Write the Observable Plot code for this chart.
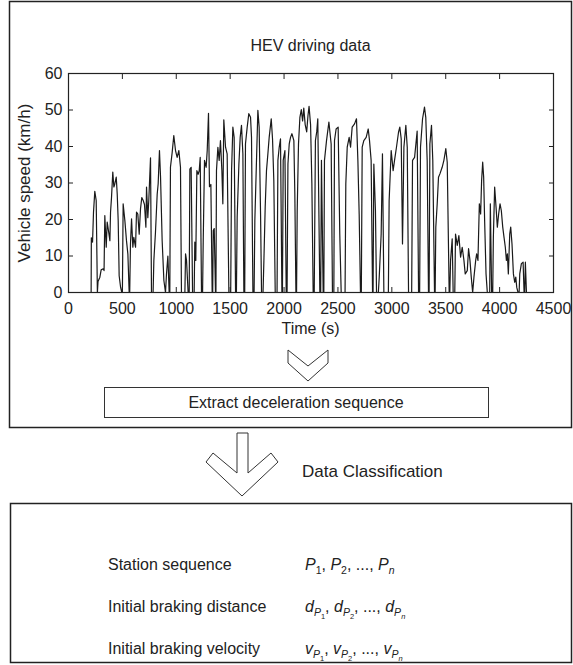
<!DOCTYPE html>
<html><head><meta charset="utf-8">
<script src="https://cdn.jsdelivr.net/npm/d3@7"></script>
<script src="https://cdn.jsdelivr.net/npm/@observablehq/plot@0.6"></script>
<style>
html,body{margin:0;padding:0;background:#fff;}
#chart{position:relative;width:573px;height:665px;overflow:hidden;}
</style></head><body><div id="chart"></div>
<script>
// ---- data ----
const timeS = [200,210,212,223,232,244,257,268,274,291,303,322,330,337,350,359,375,384,390,399,411,421,430,443,452,461,470,483,495,
500,507,523,538,551,563,568,575,585,597,606,622,631,643,656,668,680,693,705,718,724,736,745,761,770,785,792,807,823,832,844,854,869,885,900,
909,922,934,940,946,962,977,993,1008,1024,1039,1048,1080,1086,1095,1110,1120,1126,1138,1151,1166,1172,1181,1191,1203,1213,1222,1234,
1244,1250,1262,1277,1287,1299,1308,1321,1333,1338,1343,1352,1364,1368,1373,1386,1398,1410,1423,1432,1441,1457,1472,1488,
1505,1513,1525,1537,1550,1558,1565,1581,1593,1605,1618,1627,1635,1642,1658,1673,1689,1698,1711,1722,1729,1745,1757,1769,1782,1791,
1805,1813,1825,1837,1850,1862,1881,1893,1905,1918,1935,1943,1955,1967,1980,1985,1992,2008,2020,2028,2036,2048,2060,2073,2091,2100,2110,
2116,2122,2134,2147,2160,2172,2183,2196,2210,2222,2232,2246,2258,2270,2280,2291,2303,2313,2332,2340,2347,2363,2369,2375,2394,2416,2437,2449,
2462,2468,2483,2502,2517,2530,2566,2573,2586,2604,2617,2632,2654,2672,2685,2697,2709,2717,2725,2740,2762,2781,2793,2808,2821,
2826,2833,2848,2858,2875,2883,2901,2913,2926,2968,2975,2994,3012,3025,3043,3062,3074,3087,3099,3112,3130,3143,3155,
3184,3192,3211,3235,3248,3258,3266,3285,3303,3315,3328,3340,3346,3353,3368,3380,3396,3402,3408,3421,3433,3446,3467,3483,3501,3514,3523,3532,
3538,3545,3560,3569,3584,3591,3607,3622,3638,3653,3669,3681,3700,3712,3725,3737,3750,3762,3778,3787,3799,3812,3824,3833,3843,3852,3861,3874,3886,
3908,3914,3926,3936,3942,3954,3967,3979,3991,4004,4016,4029,4041,4053,4063,4072,4081,4094,4103,4115,4128,4140,4150,4159,4171,
4181,4187,4202,4218,4227,4233,4239,4249];
const speedKmh = [0,0,15,13.8,22,27.7,25.2,0,3,4.2,6.2,6.5,6,21.1,12.4,19.3,16.1,14.2,22,26,33,28.9,29.8,31.6,27,19.7,4.6,1.5,0,
0,24.3,19.7,14.2,10.5,0,0,13.3,20.2,12.4,15.1,12.4,22,21.5,16,22.9,26,25.2,24.1,17.9,28.9,20.5,25.2,36.9,0,0,8.8,16.5,27,29.8,38.9,31.6,14.2,3.3,0,
5,10,0,0,34.3,38.4,43,38.9,37,38.9,34.3,0,0,10.6,8.8,0,0,33.8,34.3,0,0,13.8,8.8,33.4,32.4,33.4,37,0,
0,14.2,36.2,34.3,38.9,49.1,29,29.6,0,0,17,17.5,0,0,33.4,39.8,36.2,41.6,33.4,24.3,47.3,39.8,38,0,
0,33.4,45.3,42.5,0,0,20.6,35.2,42.5,45.8,38,0,0,40.7,45.3,49,48,42.5,0,0,19.7,37,49.9,45.3,21.5,0,
0,8.8,23.4,33.4,38,42.5,47.6,42.1,30.7,0,0,36.2,39.8,42.1,0,0,36.2,38.9,0,0,35.2,40.7,42.5,43.5,41.6,27,0,
0,22.4,40.7,48,50.1,47,50.5,46,44,48.5,51,46,30,0,0,41.6,44,47.6,0,0,36.2,0,0,36.2,41.6,46.7,40.7,0,
0,41.6,44.8,45.3,16,0,0,29.8,39.8,42.5,39.8,45.3,46.2,47.6,36.2,21.5,0,0,39.8,41.6,42.5,44.8,41.6,36.2,0,
0,35.2,22.4,0,0,4.2,16,38,0,0,25.2,38.9,33.4,36.2,39.8,43.9,45.3,42.1,13.3,39.8,45.8,39.8,0,
0,36.2,37,44.2,0,0,39.8,47.6,50.8,48,36.2,0,0,40.7,45.8,36.2,0,0,17.9,24.3,31.6,32.5,34.3,36.2,39.4,35.7,17.9,0,
0,8.8,14.7,0,0,16,12.9,15.6,9.7,12.4,8.8,5.1,6,12,8.8,4.2,0,4.2,8.8,10.6,8.8,24.3,21.5,30.7,35.7,31.6,19.7,5.1,0,
0,24.3,0,0,15.1,28.9,23.4,17.9,21.5,24.3,22.4,17.9,15.1,12.4,8.8,10.6,5.1,16,17.9,13.3,5.1,2.8,4.2,1.4,0,
0,5.1,7.9,8.3,0,0,8.3,0];
const xTicks = [0,500,1000,1500,2000,2500,3000,3500,4000,4500];
const yTicks = [0,10,20,30,40,50,60];
const chartTitle = "HEV driving data";
const xLabel = "Time (s)";
const yLabel = "Vehicle speed (km/h)";
const stepLabel = "Extract deceleration sequence";
const classLabel = "Data Classification";
const rowNames = ["Station sequence", "Initial braking distance", "Initial braking velocity"];
const rowSymbols = ["P", "d", "v"];

// ---- chart ----
const W = 573, H = 665;
const FONT = "'Liberation Sans', Arial, Helvetica, sans-serif";
const INK = "#222";
const data = timeS.map((t, i) => ({t, v: speedKmh[i]}));

const svg = Plot.plot({
  width: W, height: H,
  marginLeft: 68, marginRight: 20, marginTop: 73, marginBottom: H - 292,
  x: {domain: [0, 4500]},
  y: {domain: [0, 60]},
  style: {fontFamily: FONT, fontSize: "16px", color: INK, background: "#fff", overflow: "visible"},
  marks: [
    Plot.line(data, {x: "t", y: "v", stroke: "#1a1a1a", strokeWidth: 1.2}),
    Plot.frame({stroke: INK, strokeWidth: 1.2}),
    Plot.axisX(xTicks, {anchor: "bottom", tickSize: -5, tickFormat: () => "", label: null}),
    Plot.axisX(xTicks, {anchor: "top", tickSize: -5, tickFormat: () => "", label: null}),
    Plot.axisY(yTicks, {anchor: "left", tickSize: -5, tickFormat: () => "", label: null}),
    Plot.axisY(yTicks, {anchor: "right", tickSize: -5, tickFormat: () => "", label: null}),
    Plot.axisX(xTicks, {anchor: "bottom", tickSize: 0, tickPadding: 10, tickFormat: d => String(d), label: null}),
    Plot.axisY(yTicks, {anchor: "left", tickSize: 0, tickPadding: 6, tickFormat: d => String(d), label: null})
  ]
});
document.getElementById("chart").appendChild(svg);

// ---- flowchart decoration around the chart ----
const s = d3.select(svg);
const deco = s.append("g").attr("font-family", FONT).attr("fill", INK).attr("text-anchor", "start");

deco.append("rect").attr("x", 9.5).attr("y", 1.5).attr("width", 562).attr("height", 426)
  .attr("fill", "none").attr("stroke", INK).attr("stroke-width", 1.5);

deco.append("text").attr("x", 310.5).attr("y", 51).attr("text-anchor", "middle")
  .attr("font-size", 16).text(chartTitle);
deco.append("text").attr("transform", "translate(30,183) rotate(-90)").attr("text-anchor", "middle")
  .attr("font-size", 17).text(yLabel);
deco.append("text").attr("x", 310.5).attr("y", 334).attr("text-anchor", "middle")
  .attr("font-size", 16).text(xLabel);

// small chevron
deco.append("polygon")
  .attr("points", "288,350 288,363 308,381 328,363 328,350 308,366")
  .attr("fill", "#fff").attr("stroke", "#333").attr("stroke-width", 1);

// extract box
deco.append("rect").attr("x", 104.5).attr("y", 387.5).attr("width", 384).attr("height", 30)
  .attr("fill", "#fff").attr("stroke", "#333").attr("stroke-width", 1);
deco.append("text").attr("x", 296).attr("y", 408).attr("text-anchor", "middle")
  .attr("font-size", 16).text(stepLabel);

// big arrow
deco.append("polygon")
  .attr("points", "237,433 248,433 248,473 271,453 278,462 242,496 206,462 213,453 237,473")
  .attr("fill", "#fff").attr("stroke", "#333").attr("stroke-width", 1);
deco.append("text").attr("x", 302).attr("y", 477).attr("text-anchor", "start")
  .attr("font-size", 17).text(classLabel);

// bottom box
deco.append("rect").attr("x", 10.5).attr("y", 503.5).attr("width", 561).attr("height", 159)
  .attr("fill", "none").attr("stroke", INK).attr("stroke-width", 1.5);

const rowY = [570, 612, 654];
const SZ = [16, 10.5, 7.5];
const OFF = [0, 3.5, 6.5];
function rich(x, y, parts) {
  const t = deco.append("text").attr("x", x).attr("y", y).attr("text-anchor", "start");
  let cur = 0;
  parts.forEach(p => {
    t.append("tspan").attr("dy", OFF[p.l] - cur).attr("font-size", SZ[p.l])
      .attr("font-style", p.i ? "italic" : "normal").text(p.t);
    cur = OFF[p.l];
  });
}
rowNames.forEach((name, i) => {
  deco.append("text").attr("x", 108).attr("y", rowY[i]).attr("text-anchor", "start")
    .attr("font-size", 16).text(name);
  const sym = rowSymbols[i];
  const idx = ["1", "2", "n"];
  const parts = [];
  idx.forEach((k, j) => {
    if (j === 2) parts.push({t: ", ..., ", l: 0});
    else if (j === 1) parts.push({t: ", ", l: 0});
    if (sym === "P") {
      parts.push({t: "P", l: 0, i: true});
      parts.push({t: k, l: 1, i: k === "n"});
    } else {
      parts.push({t: sym, l: 0, i: true});
      parts.push({t: "P", l: 1, i: true});
      parts.push({t: k, l: 2, i: k === "n"});
    }
  });
  rich(305, rowY[i], parts);
});
</script></body></html>
